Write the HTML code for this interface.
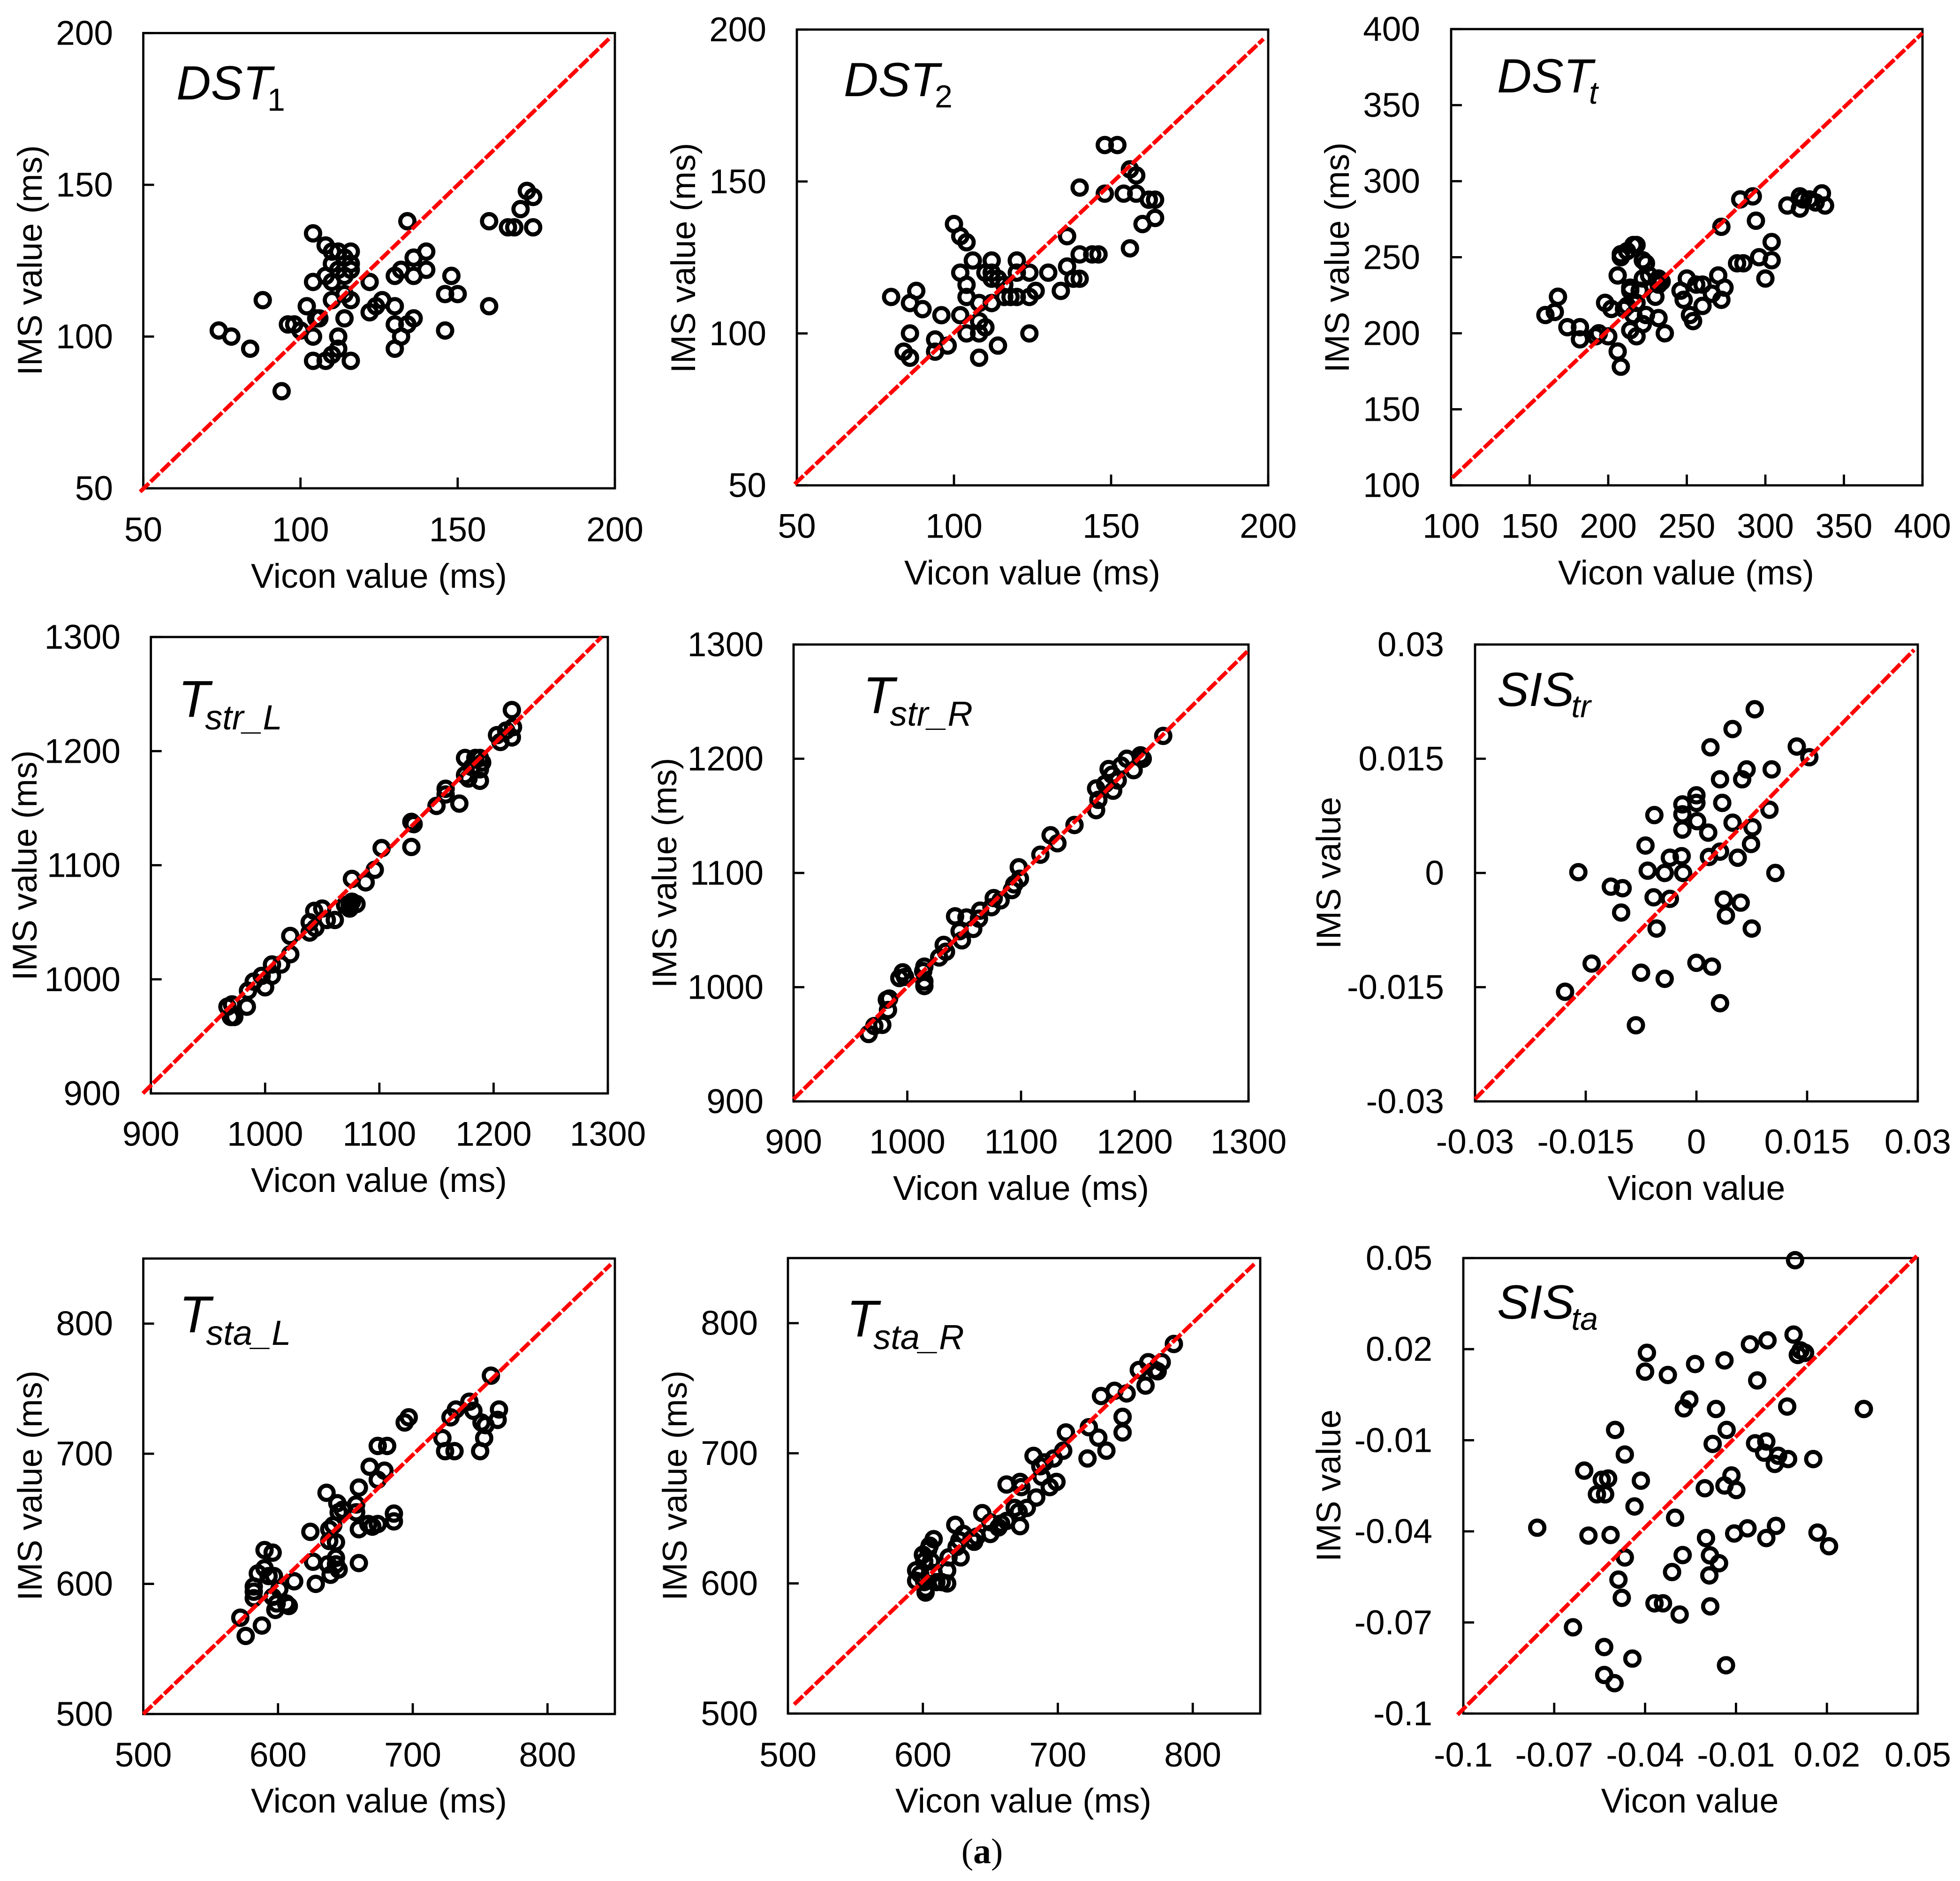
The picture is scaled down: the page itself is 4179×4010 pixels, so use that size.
<!DOCTYPE html>
<html lang="en">
<head>
<meta charset="utf-8">
<title>IMS versus Vicon scatter plots</title>
<style>
html,body{margin:0;padding:0;background:#fff;}
svg{display:block;}
text{font-family:"Liberation Sans",Arial,sans-serif;fill:#000;}
</style>
</head>
<body>
<svg id="figure" xmlns="http://www.w3.org/2000/svg" width="4179" height="4010" viewBox="0 0 4179 4010">
<rect x="0" y="0" width="4179" height="4010" fill="#ffffff"/>
<text x="2094" y="3972" text-anchor="middle" font-size="76" style="font-family:'Liberation Serif',serif">(<tspan font-weight="bold">a</tspan>)</text>
</svg>
<script>
const dst1X=[74,78,84,88,94,96,98,100,102,104,104,104,104,105,106,108,108,108,110,110,110,110,110,112,112,112,112,114,114,114,114,116,116,116,116,116,122,122,124,126,130,130,130,130,132,132,134,134,136,136,136,140,140,146,146,148,150,160,160,166,168,170,172,174,174];
const dst1Y=[102,100,96,112,82,104,104,102,110,134,118,100,92,106,106,130,120,92,124,128,118,112,94,128,122,100,96,126,120,114,106,128,124,122,112,92,118,108,110,112,120,110,104,96,122,100,138,104,126,120,106,128,122,114,102,120,114,138,110,136,136,142,148,146,136];
const dst2X=[80,86,88,90,84,86,86,94,94,96,98,100,102,102,102,104,104,104,104,106,108,108,108,108,110,110,112,112,112,112,114,114,116,116,118,120,120,120,124,124,124,126,130,134,136,136,138,140,140,140,144,146,148,148,152,154,156,156,158,158,160,162,164,164];
const dst2Y=[112,110,114,108,94,100,92,98,94,106,96,136,132,120,106,130,116,112,100,124,110,104,100,92,120,102,124,120,118,110,118,96,116,112,112,124,120,112,120,112,100,114,120,114,132,122,118,148,126,118,126,126,162,146,162,146,154,128,146,152,136,144,144,138];
const dstTX=[160,166,168,174,182,182,192,194,198,202,200,206,208,206,208,208,212,216,218,210,212,214,214,214,216,218,218,220,222,222,222,224,224,226,230,232,232,232,234,236,246,248,250,252,254,256,260,260,266,270,272,274,272,282,286,284,292,294,296,300,304,304,314,322,322,324,328,332,336,338];
const dstTY=[212,214,224,204,204,196,198,200,220,216,198,188,178,238,250,252,254,258,258,216,218,228,230,202,212,198,220,228,248,236,206,212,246,238,224,210,232,236,234,200,228,222,236,212,208,232,232,218,226,238,222,230,270,246,246,288,290,274,250,236,248,260,284,290,282,288,288,286,292,284];
const strLX=[967,971,970,973,984,985,990,997,1000,1006,1006,1014,1022,1022,1039,1039,1043,1044,1050,1054,1061,1070,1074,1074,1076,1080,1076,1088,1096,1102,1128,1128,1130,1150,1158,1158,1170,1175,1175,1178,1181,1184,1188,1188,1188,1190,1203,1206,1211,1216,1217,1216];
const strLY=[976,978,967,967,976,990,998,1003,993,1003,1013,1013,1022,1038,1050,1041,1060,1045,1062,1052,1052,1065,1065,1062,1068,1066,1088,1085,1096,1115,1116,1138,1136,1152,1167,1162,1154,1194,1179,1176,1186,1194,1194,1184,1174,1190,1214,1208,1218,1236,1221,1212];
const strRX=[966,971,978,983,982,984,993,996,998,1015,1015,1014,1015,1028,1034,1032,1048,1046,1042,1052,1058,1063,1064,1074,1076,1082,1092,1094,1099,1098,1117,1126,1132,1147,1166,1168,1166,1174,1181,1185,1177,1180,1188,1193,1199,1205,1207,1225];
const strRY=[959,966,967,980,989,990,1008,1013,1009,1001,1005,1014,1018,1026,1031,1037,1041,1049,1062,1061,1051,1060,1067,1070,1078,1076,1085,1090,1095,1105,1116,1133,1126,1142,1155,1164,1174,1178,1172,1181,1191,1186,1194,1200,1190,1203,1200,1220];
const sisTrX=[-0.0178,-0.016,-0.0142,-0.0116,-0.01,-0.0102,-0.0082,-0.0075,-0.0069,-0.0066,-0.0058,-0.0057,-0.0054,-0.0043,-0.0043,-0.0036,-0.0036,-0.002,-0.0019,-0.0019,-0.0019,-0.0018,0,0,0.0001,0,0.0016,0.0017,0.0019,0.0021,0.0032,0.0032,0.0035,0.0032,0.0037,0.004,0.0049,0.0049,0.0056,0.006,0.0062,0.0068,0.0074,0.0076,0.0075,0.0079,0.0099,0.0102,0.0107,0.0136,0.0153];
const sisTrY=[-0.0156,0.0001,-0.0119,-0.0018,-0.002,-0.0052,-0.02,-0.0131,0.0036,0.0003,-0.0032,0.0076,-0.0073,-0.0139,0,0.002,-0.0034,0.0022,0.009,0.0077,0.0057,0,0.0102,0.0092,0.0068,-0.0118,0.0053,0.0021,0.0165,-0.0123,0.0123,0.0028,0.0092,-0.0171,-0.0035,-0.0056,0.0189,0.0066,0.002,-0.0039,0.0123,0.0136,0.0038,0.006,-0.0073,0.0215,0.0083,0.0136,0,0.0166,0.0152];
const staLX=[572,576,588,582,582,582,585,590,590,593,596,597,596,599,598,601,606,608,612,624,626,628,636,638,638,637,639,641,643,643,643,644,645,645,648,658,658,660,660,660,667,668,670,674,674,674,679,681,686,686,694,697,722,724,728,731,732,742,745,750,751,753,754,758,763,764];
const staLY=[574,560,568,598,594,589,608,612,626,606,624,606,590,585,580,596,585,583,602,640,617,600,670,642,633,615,607,645,632,620,615,662,611,655,657,655,661,674,642,616,646,690,644,646,680,706,687,706,654,648,724,728,712,702,728,702,734,740,733,702,724,712,722,760,726,734];
const staRX=[595,595,598,602,602,601,600,604,601,605,606,608,608,610,614,618,618,619,624,625,628,627,630,636,638,640,644,650,650,656,658,662,662,668,671,672,672,673,677,684,682,687,690,688,694,697,699,704,706,722,723,730,732,736,742,748,748,751,760,765,767,772,774,777,786];
const staRY=[610,602,607,593,596,601,622,626,617,629,617,634,608,601,601,610,600,620,645,628,620,633,638,634,632,636,654,647,638,643,646,648,676,658,655,644,678,674,658,666,698,690,693,682,674,696,678,702,716,696,720,712,744,702,748,716,728,746,764,752,770,764,763,770,784];
const sisTaX=[-0.0756,-0.0638,-0.0601,-0.0587,-0.0559,-0.0543,-0.0532,-0.0522,-0.0535,-0.0535,-0.0514,-0.0501,-0.0499,-0.0488,-0.0477,-0.0467,-0.0467,-0.0442,-0.0435,-0.0414,-0.04,-0.0394,-0.0369,-0.0341,-0.0325,-0.0311,-0.0301,-0.0286,-0.0276,-0.0272,-0.0254,-0.0235,-0.0203,-0.0199,-0.0186,-0.0188,-0.0185,-0.0177,-0.0166,-0.0156,-0.0138,-0.0138,-0.0131,-0.0133,-0.0115,-0.0106,-0.0099,-0.0062,-0.0054,-0.0037,-0.003,-0.0007,0,0,0.0004,0.0028,0.0032,0.0039,0.0069,0.0072,0.009,0.0095,0.0104,0.0113,0.0128,0.0155,0.0169,0.0207,0.0322];
const sisTaY=[-0.0388,-0.0716,-0.02,-0.0414,-0.0278,-0.023,-0.0278,-0.0226,-0.0781,-0.0873,-0.0412,-0.09,-0.0066,-0.0559,-0.0619,-0.0147,-0.0486,-0.0819,-0.0318,-0.0233,0.0126,0.0188,-0.0637,-0.0637,0.0115,-0.0534,-0.0355,-0.0674,-0.0478,0.0005,0.0034,0.0151,-0.0258,-0.0422,-0.0479,-0.0545,-0.0647,-0.0112,0.0003,-0.0505,-0.0249,0.0163,-0.0066,-0.0841,-0.0216,-0.0407,-0.0264,-0.039,0.0216,-0.011,0.0097,-0.0141,-0.0104,-0.0422,0.0229,-0.0178,-0.0382,-0.0151,0.0011,-0.0162,0.0248,0.0493,0.0181,0.0196,0.0188,-0.0162,-0.0404,-0.0449,0.0003];

const dstTicks=['50','100','150','200'];
const dstTotalTicks=['100','150','200','250','300','350','400'];
const strideTicks=['900','1000','1100','1200','1300'];
const sisStrideTicks=['-0.03','-0.015','0','0.015','0.03'];
const stanceTicks=['500','600','700','800'];
const sisStanceTicks=['-0.1','-0.07','-0.04','-0.01','0.02','0.05'];

const dst1Ref=[49,48.85,198.7,198.7];
const dst2Ref=[49.3,50.4,198.5,196.9];
const dstTRef=[100.8,105,400,397.4];
const strLRef=[893,900,1294.5,1300];
const strRRef=[900,902,1300,1295];
const sisTrRef=[-0.03,-0.0297,0.0295,0.0293];
const staLRef=[500,500,847,845.5];
const staRRef=[504.6,507,845.6,845.4];
const sisTaRef=[-0.1019,-0.1004,0.0497,0.0507];

const panels=[
{id:'dst-1',xs:dst1X,ys:dst1Y,ref:dst1Ref,ticks:dstTicks,dom:[50,200],ydom:[50,200],L:305.5,R:1311,T:70.5,B:1041,yTickRight:241,yTitleX:89,yTitleCy:555,xTickBase:1154,xTitleBase:1253,xTitleCx:808,xTitle:'Vicon value (ms)',yTitle:'IMS value (ms)',labelX:376,labelY:212,main:'DST',sub:'1',subItalic:false,subDx:-10,subDy:24},
{id:'dst-2',xs:dst2X,ys:dst2Y,ref:dst2Ref,ticks:dstTicks,dom:[50,200],ydom:[50,200],L:1699,R:2704,T:63,B:1034.7,yTickRight:1634,yTitleX:1482,yTitleCy:550,xTickBase:1146.6,xTitleBase:1246,xTitleCx:2201,xTitle:'Vicon value (ms)',yTitle:'IMS value (ms)',labelX:1799,labelY:205,main:'DST',sub:'2',subItalic:false,subDx:-10,subDy:24},
{id:'dst-t',xs:dstTX,ys:dstTY,ref:dstTRef,ticks:dstTotalTicks,dom:[100,400],ydom:[100,400],L:3094,R:4099,T:62,B:1034.7,yTickRight:3028,yTitleX:2876,yTitleCy:549,xTickBase:1146.6,xTitleBase:1246,xTitleCx:3595,xTitle:'Vicon value (ms)',yTitle:'IMS value (ms)',labelX:3192,labelY:197,main:'DST',sub:'t',subItalic:true,subDx:-8,subDy:24},
{id:'t-str-l',xs:strLX,ys:strLY,ref:strLRef,ticks:strideTicks,dom:[900,1300],ydom:[900,1300],L:321.7,R:1296,T:1358,B:2331,yTickRight:257,yTitleX:78,yTitleCy:1845,xTickBase:2442.5,xTitleBase:2541,xTitleCx:808,xTitle:'Vicon value (ms)',yTitle:'IMS value (ms)',labelX:380,labelY:1528,main:'T',sub:'str_L',subItalic:true,subDx:-10,subDy:27},
{id:'t-str-r',xs:strRX,ys:strRY,ref:strRRef,ticks:strideTicks,dom:[900,1300],ydom:[900,1300],L:1692,R:2662,T:1374,B:2348,yTickRight:1628,yTitleX:1442,yTitleCy:1861,xTickBase:2459,xTitleBase:2558,xTitleCx:2177,xTitle:'Vicon value (ms)',yTitle:'IMS value (ms)',labelX:1840,labelY:1520,main:'T',sub:'str_R',subItalic:true,subDx:-10,subDy:27},
{id:'sis-tr',xs:sisTrX,ys:sisTrY,ref:sisTrRef,ticks:sisStrideTicks,dom:[-0.03,0.03],ydom:[-0.03,0.03],L:3145,R:4089,T:1374,B:2348,yTickRight:3079,yTitleX:2858,yTitleCy:1861,xTickBase:2459,xTitleBase:2558,xTitleCx:3617,xTitle:'Vicon value',yTitle:'IMS value',labelX:3192,labelY:1505,main:'SIS',sub:'tr',subItalic:true,subDx:-6,subDy:24},
{id:'t-sta-l',xs:staLX,ys:staLY,ref:staLRef,ticks:stanceTicks,dom:[500,850],ydom:[500,850],L:305.5,R:1311,T:2683,B:3654,yTickRight:241,yTitleX:89,yTitleCy:3167,xTickBase:3766,xTitleBase:3864,xTitleCx:808,xTitle:'Vicon value (ms)',yTitle:'IMS value (ms)',labelX:382,labelY:2840,main:'T',sub:'sta_L',subItalic:true,subDx:-10,subDy:27},
{id:'t-sta-r',xs:staRX,ys:staRY,ref:staRRef,ticks:stanceTicks,dom:[500,850],ydom:[500,850],L:1680,R:2687,T:2682,B:3653,yTickRight:1616,yTitleX:1464,yTitleCy:3167,xTickBase:3766,xTitleBase:3864,xTitleCx:2182,xTitle:'Vicon value (ms)',yTitle:'IMS value (ms)',labelX:1805,labelY:2849,main:'T',sub:'sta_R',subItalic:true,subDx:-10,subDy:27},
{id:'sis-ta',xs:sisTaX,ys:sisTaY,ref:sisTaRef,ticks:sisStanceTicks,dom:[-0.1,0.05],ydom:[-0.1,0.05],L:3120,R:4089,T:2682,B:3653,yTickRight:3054,yTitleX:2858,yTitleCy:3167,xTickBase:3766,xTitleBase:3864,xTitleCx:3603,xTitle:'Vicon value',yTitle:'IMS value',labelX:3192,labelY:2811,main:'SIS',sub:'ta',subItalic:true,subDx:-6,subDy:24}
];

const NS='http://www.w3.org/2000/svg';
const root=document.getElementById('figure');
function mk(parent,tag,attrs){
  const el=document.createElementNS(NS,tag);
  for(const k in attrs){el.setAttribute(k,attrs[k]);}
  parent.appendChild(el);
  return el;
}
function scale(dom,a,b){return function(v){return a+(v-dom[0])/(dom[1]-dom[0])*(b-a);};}

panels.forEach(function(p){
  const g=mk(root,'g',{});
  
  
  const sx=scale(p.dom,p.L,p.R);
  const sy=scale(p.ydom,p.B,p.T);

  const frame=mk(g,'rect',{x:p.L,y:p.T,width:p.R-p.L,height:p.B-p.T,fill:'none',stroke:'#000','stroke-width':4.8});
  
  

  p.ticks.forEach(function(t){
    const v=Number(t);
    const tx=mk(g,'line',{x1:sx(v),x2:sx(v),y1:p.B,y2:p.B-23,stroke:'#000','stroke-width':4.8});
    
    
    const ty=mk(g,'line',{x1:p.L,x2:p.L+23,y1:sy(v),y2:sy(v),stroke:'#000','stroke-width':4.8});
    
    
    const lx=mk(g,'text',{x:sx(v),y:p.xTickBase,'text-anchor':'middle','font-size':73});
    
    
    lx.textContent=t;
    const ly=mk(g,'text',{x:p.yTickRight,y:sy(v)+25,'text-anchor':'end','font-size':73});
    
    
    ly.textContent=t;
  });

  const xt=mk(g,'text',{x:p.xTitleCx,y:p.xTitleBase,'text-anchor':'middle','font-size':73.5});
  
  
  xt.textContent=p.xTitle;

  const yt=mk(g,'text',{x:p.yTitleX,y:p.yTitleCy,'text-anchor':'middle','font-size':73,transform:'rotate(-90 '+p.yTitleX+' '+p.yTitleCy+')'});
  
  
  yt.textContent=p.yTitle;

  const lab=mk(g,'text',{x:p.labelX,y:p.labelY,'font-size':p.main==='T'?110:102,'font-style':'italic'});
  
  
  const m=mk(lab,'tspan',{});
  m.textContent=p.main;
  const s=mk(lab,'tspan',{dx:p.subDx,dy:p.subDy,'font-size':p.main==='T'?74:68,'font-style':p.subItalic?'italic':'normal'});
  s.textContent=p.sub;

  const pts=mk(g,'g',{fill:'none',stroke:'#000','stroke-width':8.8});
  
  
  p.xs.forEach(function(x,i){
    const c=mk(pts,'circle',{cx:sx(x),cy:sy(p.ys[i]),r:15.2});
    
    
  });

  const refLine=mk(g,'line',{x1:sx(p.ref[0]),y1:sy(p.ref[1]),x2:sx(p.ref[2]),y2:sy(p.ref[3]),stroke:'#ff0000','stroke-width':8.5,'stroke-dasharray':'26 5'});
  
  
});
</script>
</body>
</html>
